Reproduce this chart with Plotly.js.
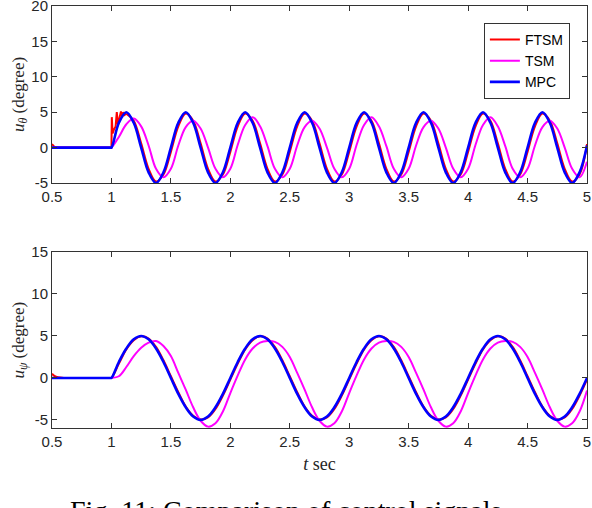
<!DOCTYPE html>
<html>
<head>
<meta charset="utf-8">
<script src="https://cdn.plot.ly/plotly-3.0.1.min.js"></script>
<style>
  body { margin: 0; background: white; }
  #chart { width: 592px; height: 508px; }
</style>
</head>
<body>
<div id="chart"></div>
<script>
// Time samples (sec)
var tLead = [0.5, 0.99];
var tGrid = [
    1, 1.0625, 1.125, 1.1875, 1.25, 1.3125, 1.375, 1.4375,
    1.5, 1.5625, 1.625, 1.6875, 1.75, 1.8125, 1.875, 1.9375,
    2, 2.0625, 2.125, 2.1875, 2.25, 2.3125, 2.375, 2.4375,
    2.5, 2.5625, 2.625, 2.6875, 2.75, 2.8125, 2.875, 2.9375,
    3, 3.0625, 3.125, 3.1875, 3.25, 3.3125, 3.375, 3.4375,
    3.5, 3.5625, 3.625, 3.6875, 3.75, 3.8125, 3.875, 3.9375,
    4, 4.0625, 4.125, 4.1875, 4.25, 4.3125, 4.375, 4.4375,
    4.5, 4.5625, 4.625, 4.6875, 4.75, 4.8125, 4.875, 4.9375,
    5
];
var leadZero = [0, 0];

// u_theta (degree)
var thetaMpc = [
    0, 3.5, 5, 3.5, 0, -3.5, -5, -3.5,
    0, 3.5, 5, 3.5, 0, -3.5, -5, -3.5,
    0, 3.5, 5, 3.5, 0, -3.5, -5, -3.5,
    0, 3.5, 5, 3.5, 0, -3.5, -5, -3.5,
    0, 3.5, 5, 3.5, 0, -3.5, -5, -3.5,
    0, 3.5, 5, 3.5, 0, -3.5, -5, -3.5,
    0, 3.5, 5, 3.5, 0, -3.5, -5, -3.5,
    0, 3.5, 5, 3.5, 0, -3.5, -5, -3.5,
    0.3
];
var thetaTsm = [
    0, 1.5, 3.3, 4.1, 3.0, 0.3, -3.0, -4.2,
    -3.0, 0.3, 2.9, 3.8, 2.7, 0.0, -3.0, -4.2,
    -3.0, 0.4, 3.2, 4.3, 3.0, 0.2, -3.0, -4.2,
    -3.0, 0.3, 2.9, 3.8, 2.7, 0.0, -3.0, -4.2,
    -3.0, 0.4, 3.2, 4.3, 3.0, 0.2, -3.0, -4.2,
    -3.0, 0.3, 2.9, 3.8, 2.7, 0.0, -3.0, -4.2,
    -3.0, 0.4, 3.2, 4.3, 3.0, 0.2, -3.0, -4.2,
    -3.0, 0.3, 2.9, 3.8, 2.7, 0.0, -3.0, -4.2,
    -2.0
];
// FTSM start-up chattering, then the smooth part from t = 1.125
var thetaFtsmStartT = [0.5, 0.51, 0.52, 0.55, 1, 1.003, 1.01, 1.02, 1.035, 1.045, 1.055, 1.065, 1.08, 1.09, 1.1, 1.11, 1.125];
var thetaFtsmStart = [0.5, 0.3, 0.1, 0, 0, 4.3, 2.0, 2.5, 3.0, 5.0, 3.2, 4.0, 5.1, 4.3, 5.0, 4.6, 4.8];
var thetaFtsm = [
    4.8, 3.8, 0.6, -3.0, -4.8, -3.8,
    -0.6, 3.0, 4.8, 3.8, 0.6, -3.0, -4.8, -3.8,
    -0.6, 3.0, 4.8, 3.8, 0.6, -3.0, -4.8, -3.8,
    -0.6, 3.0, 4.8, 3.8, 0.6, -3.0, -4.8, -3.8,
    -0.6, 3.0, 4.8, 3.8, 0.6, -3.0, -4.8, -3.8,
    -0.6, 3.0, 4.8, 3.8, 0.6, -3.0, -4.8, -3.8,
    -0.6, 3.0, 4.8, 3.8, 0.6, -3.0, -4.8, -3.8,
    -0.6, 3.0, 4.8, 3.8, 0.6, -3.0, -4.8, -3.8,
    0.5
];

// u_psi (degree)
var psiMpc = [
    0, 1.9, 3.5, 4.6, 5, 4.6, 3.5, 1.9, 0, -1.9, -3.5, -4.6, -5, -4.6, -3.5, -1.9,
    0, 1.9, 3.5, 4.6, 5, 4.6, 3.5, 1.9, 0, -1.9, -3.5, -4.6, -5, -4.6, -3.5, -1.9,
    0, 1.9, 3.5, 4.6, 5, 4.6, 3.5, 1.9, 0, -1.9, -3.5, -4.6, -5, -4.6, -3.5, -1.9,
    0, 1.9, 3.5, 4.6, 5, 4.6, 3.5, 1.9, 0, -1.9, -3.5, -4.6, -5, -4.6, -3.5, -1.9,
    0
];
var psiTsm = [
    0, 0.2, 1.3, 2.6, 3.6, 4.2, 4.4, 3.8, 2.6, 0.6, -1.4, -3.5, -5.1, -5.8, -5.4, -4.0,
    -1.8, 0.3, 2.2, 3.5, 4.2, 4.4, 4.3, 3.7, 2.5, 0.6, -1.4, -3.5, -5.1, -5.8, -5.4, -4.0,
    -1.8, 0.3, 2.2, 3.5, 4.2, 4.4, 4.3, 3.7, 2.5, 0.6, -1.4, -3.5, -5.1, -5.8, -5.4, -4.0,
    -1.8, 0.3, 2.2, 3.5, 4.2, 4.4, 4.3, 3.7, 2.5, 0.6, -1.4, -3.5, -5.1, -5.8, -5.4, -4.0,
    -1.5
];
var psiFtsmLeadT = [0.5, 0.52, 0.55, 0.6, 0.99];
var psiFtsmLead = [0.5, 0.25, 0.08, 0, 0];
var psiFtsm = [
    0, 1.7, 3.4, 4.5, 4.95, 4.7, 3.7, 2.1, 0.2, -1.7, -3.4, -4.5, -4.95, -4.7, -3.7, -2.1,
    -0.2, 1.7, 3.4, 4.5, 4.95, 4.7, 3.7, 2.1, 0.2, -1.7, -3.4, -4.5, -4.95, -4.7, -3.7, -2.1,
    -0.2, 1.7, 3.4, 4.5, 4.95, 4.7, 3.7, 2.1, 0.2, -1.7, -3.4, -4.5, -4.95, -4.7, -3.7, -2.1,
    -0.2, 1.7, 3.4, 4.5, 4.95, 4.7, 3.7, 2.1, 0.2, -1.7, -3.4, -4.5, -4.95, -4.7, -3.7, -2.1,
    -0.2
];

// Ticks
var xTicks = [0.5, 1, 1.5, 2, 2.5, 3, 3.5, 4, 4.5, 5];
var xTickText = ['0.5', '1', '1.5', '2', '2.5', '3', '3.5', '4', '4.5', '5'];
var yTopTicks = [-5, 0, 5, 10, 15, 20];
var yTopTickText = ['-5', '0', '5', '10', '15', '20'];
var yBotTicks = [-5, 0, 5, 10, 15];
var yBotTickText = ['-5', '0', '5', '10', '15'];

var RED = '#ff0000', MAGENTA = '#ff00ff', BLUE = '#0000ff';

function lineTrace(name, x, y, color, width, xa, ya, opts) {
    var tr = {
        name: name,
        x: x, y: y,
        type: 'scatter',
        mode: 'lines',
        line: { color: color, width: width, shape: 'spline', smoothing: 1 },
        xaxis: xa, yaxis: ya,
        legendgroup: name,
        hoverinfo: 'skip'
    };
    return Object.assign(tr, opts || {});
}

var data = [
    // top panel
    lineTrace('FTSM', thetaFtsmStartT, thetaFtsmStart, RED, 2, 'x', 'y',
        { showlegend: false, line: { color: RED, width: 2, shape: 'linear' } }),
    lineTrace('FTSM', tGrid.slice(2), thetaFtsm, RED, 2, 'x', 'y'),
    lineTrace('TSM', tLead.concat(tGrid), leadZero.concat(thetaTsm), MAGENTA, 2, 'x', 'y'),
    lineTrace('MPC', tLead.concat(tGrid), leadZero.concat(thetaMpc), BLUE, 2.6, 'x', 'y'),
    // bottom panel
    lineTrace('FTSM', psiFtsmLeadT.concat(tGrid), psiFtsmLead.concat(psiFtsm), RED, 2, 'x2', 'y2', { showlegend: false }),
    lineTrace('TSM', tLead.concat(tGrid), leadZero.concat(psiTsm), MAGENTA, 2, 'x2', 'y2', { showlegend: false }),
    lineTrace('MPC', tLead.concat(tGrid), leadZero.concat(psiMpc), BLUE, 2.6, 'x2', 'y2', { showlegend: false })
];

var axisColor = '#333333';
var tickFont = { family: 'Liberation Sans, Arial, sans-serif', size: 15, color: '#262626' };
var titleFont = { family: 'Liberation Serif, Times New Roman, serif', size: 17, color: '#262626' };

function xAxis(anchor, title) {
    return {
        anchor: anchor,
        domain: [0, 1],
        range: [0.5, 5],
        tickvals: xTicks,
        ticktext: xTickText,
        ticks: 'inside',
        ticklen: 5,
        tickcolor: axisColor,
        showline: true,
        linecolor: axisColor,
        linewidth: 1,
        mirror: 'ticks',
        showgrid: false,
        zeroline: false,
        tickfont: tickFont,
        ticklabeloverflow: 'allow',
        title: title ? { text: title, font: { family: titleFont.family, size: 18, color: '#262626' }, standoff: 8 } : { text: '' }
    };
}

function yAxis(anchor, domain, range, vals, text, title) {
    return {
        anchor: anchor,
        domain: domain,
        range: range,
        tickvals: vals,
        ticktext: text,
        ticks: 'inside',
        ticklen: 5,
        tickcolor: axisColor,
        showline: true,
        linecolor: axisColor,
        linewidth: 1,
        mirror: 'ticks',
        showgrid: false,
        zeroline: false,
        tickfont: tickFont,
        ticklabeloverflow: 'allow',
        title: { text: title, font: titleFont, standoff: 2 }
    };
}

var layout = {
    width: 592,
    height: 508,
    margin: { l: 52, r: 5, t: 0, b: 0 },
    paper_bgcolor: 'white',
    plot_bgcolor: 'white',
    showlegend: true,
    legend: {
        x: 0.968, y: 0.955,
        xanchor: 'right', yanchor: 'top',
        bgcolor: 'white',
        bordercolor: axisColor,
        borderwidth: 1,
        font: { family: 'Liberation Sans, Arial, sans-serif', size: 14, color: '#000000' },
        tracegroupgap: 0
    },
    xaxis: xAxis('y', ''),
    yaxis: yAxis('x', [0.6398, 0.9882], [-5, 20], yTopTicks, yTopTickText,
        '<i>u</i><sub><i>θ</i></sub> (degree)'),
    xaxis2: xAxis('y2', '<i>t</i> sec'),
    yaxis2: yAxis('x2', [0.1569, 0.5039], [-6, 15], yBotTicks, yBotTickText,
        '<i>u</i><sub><i>ψ</i></sub> (degree)'),
    annotations: [{
        text: 'Fig. 11: Comparison of control signals',
        xref: 'paper', yref: 'paper',
        x: 0.437, y: 0.029,
        xanchor: 'center', yanchor: 'top',
        showarrow: false,
        font: { family: 'Liberation Serif, Times New Roman, serif', size: 28, color: '#000000' }
    }]
};

Plotly.newPlot('chart', data, layout, { displayModeBar: false, staticPlot: true });
</script>
</body>
</html>
